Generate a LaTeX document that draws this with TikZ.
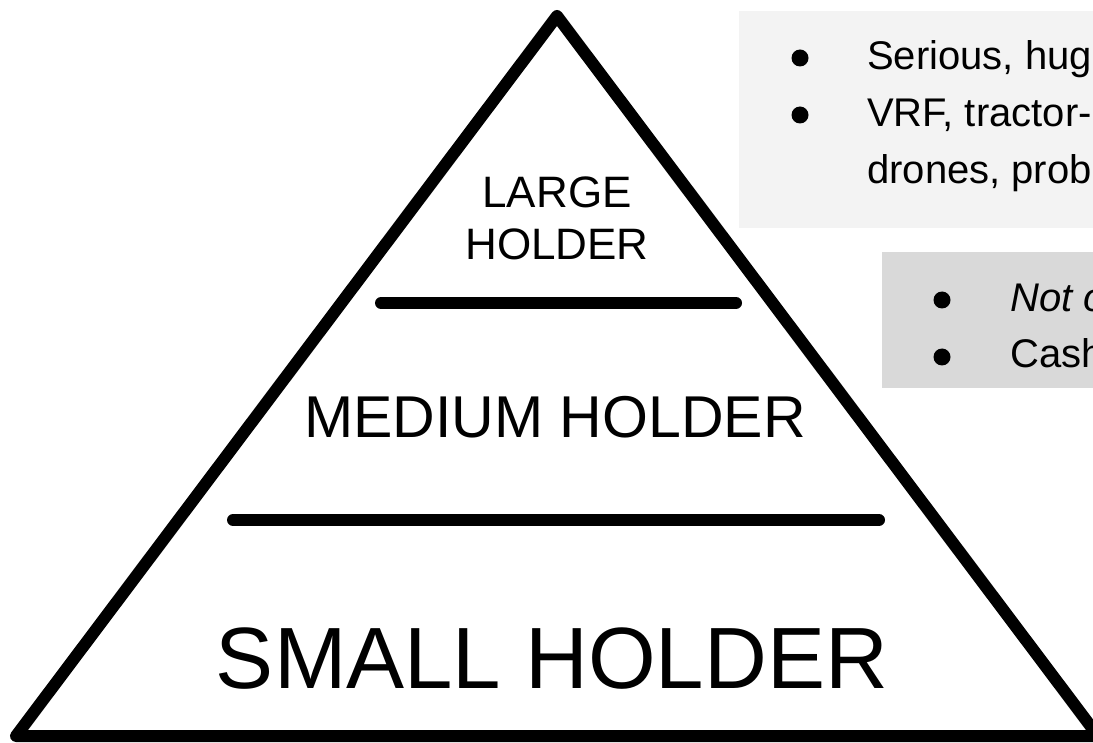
\documentclass[tikz,border=0pt]{standalone}
\usepackage{fontspec}
\setmainfont{Liberation Sans}
\usetikzlibrary{positioning}
\definecolor{boxlight}{HTML}{F3F3F3}
\definecolor{boxdark}{HTML}{D9D9D9}
\tikzstyle{tier} = [line width=12pt, line cap=round]
\tikzstyle{label} = [inner sep=0pt, anchor=base]
\tikzstyle{note} = [inner sep=0pt, anchor=base west, font=\fontsize{40}{48}\selectfont]
\tikzstyle{dot} = [circle, fill=black, inner sep=0pt, minimum size=17pt]

\begin{document}
\begin{tikzpicture}[x=1pt, y=-1pt]
    \useasboundingbox (0,0) rectangle (1093,743);
    \clip (0,0) rectangle (1093,743);
    % Drawing boxes
    \fill [boxlight] (739,11) rectangle (1100,228);
    \fill [boxdark] (882,252) rectangle (1100,388);

    % Drawing pyramid
    \draw [line width=12pt, line join=round] (557,16) -- (16,736) -- (1098,736) -- cycle;
    \draw [tier] (381,303) -- (736,303);
    \draw [tier] (233,520) -- (879,520);

    % Labels
    \node [label, font=\fontsize{44}{52}\selectfont] (large) at (557,208) {LARGE};
    \node [label, font=\fontsize{44}{52}\selectfont] (largeh) at (557,260) {HOLDER};
    \node [label, font=\fontsize{59}{70}\selectfont] (medium) at (555,437) {MEDIUM HOLDER};
    \node [label, font=\fontsize{87}{100}\selectfont] (small) at (552,688) {SMALL HOLDER};

    % Notes
    \node [dot] (d1) at (800,58) {};
    \node [note] (n1) at (867,70) {Serious, hug};
    \node [dot] (d2) at (800,115) {};
    \node [note] (n2) at (867,127) {VRF, tractor-};
    \node [note] (n3) at (867,184) {drones, prob};
    \node [dot] (d3) at (942,300) {};
    \node [note] (n4) at (1010,312) {\textit{Not o}};
    \node [dot] (d4) at (942,357) {};
    \node [note] (n5) at (1010,368) {Cash};
\end{tikzpicture}
\end{document}
